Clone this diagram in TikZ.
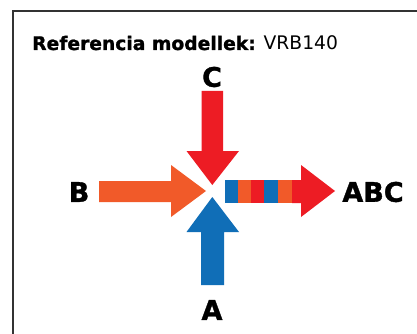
\documentclass[tikz,border=0pt]{standalone}
\usepackage{fontspec}
\setmainfont{DejaVu Sans}
\newfontfamily\heavy{DejaVu Sans Bold}[FakeBold=1.2]
\usepackage{xcolor}
\usepackage{tikz}
\definecolor{mixred}{HTML}{ED1C24}
\definecolor{mixorange}{HTML}{F15A29}
\definecolor{mixblue}{HTML}{106EB7}
\tikzset{
  frame/.style={line width=1.2pt,black!80},
  flow/.style={draw=none},
  lbl/.style={font=\fontsize{27}{27}\selectfont\heavy,inner sep=0pt},
  ttl/.style={font=\fontsize{18.7}{19}\selectfont,inner sep=0pt,anchor=base west}
}
% one coloured band of the mixed flow, from x=#1 to x=#2
\newcommand{\band}[3]{\fill[#3] (#1,180) rectangle (#2,203);}

\begin{document}
\begin{tikzpicture}[x=1pt,y=-1pt]
\useasboundingbox (0,0) rectangle (417,334);
\fill[white] (0,0) rectangle (417,334);
\draw[frame] (13,340) |- (425,11);
\node[ttl] (title) at (32,50) {{\heavy Referencia modellek:} VRB140};
% incoming flows
\fill[mixred,flow] (201.5,91) -- (223,91) -- (223,151) -- (239,151) -- (212.3,185)
  -- (186.5,151) -- (201.5,151) -- cycle;
\fill[mixblue,flow] (201,285) -- (224,285) -- (224,232) -- (239,232) -- (212.3,197)
  -- (186.5,232) -- (201,232) -- cycle;
\fill[mixorange,flow] (99,181) -- (171,181) -- (171,165) -- (206,191) -- (171,217)
  -- (171,202) -- (99,202) -- cycle;
% mixed flow
\band{224.5}{238}{mixblue}
\band{238}{251}{mixorange}
\band{251}{264}{mixred}
\band{264}{278}{mixblue}
\band{278}{292}{mixorange}
\fill[mixred,flow] (292,180) -- (301,180) -- (301,165) -- (335,191) -- (301,217)
  -- (301,203) -- (292,203) -- cycle;
% labels
\node[lbl] (C) at (212,77) {C};
\node[lbl] (A) at (212,310) {A};
\node[lbl] (B) at (79,192) {B};
\node[lbl] (ABC) at (373,192) {ABC};
\end{tikzpicture}
\end{document}
